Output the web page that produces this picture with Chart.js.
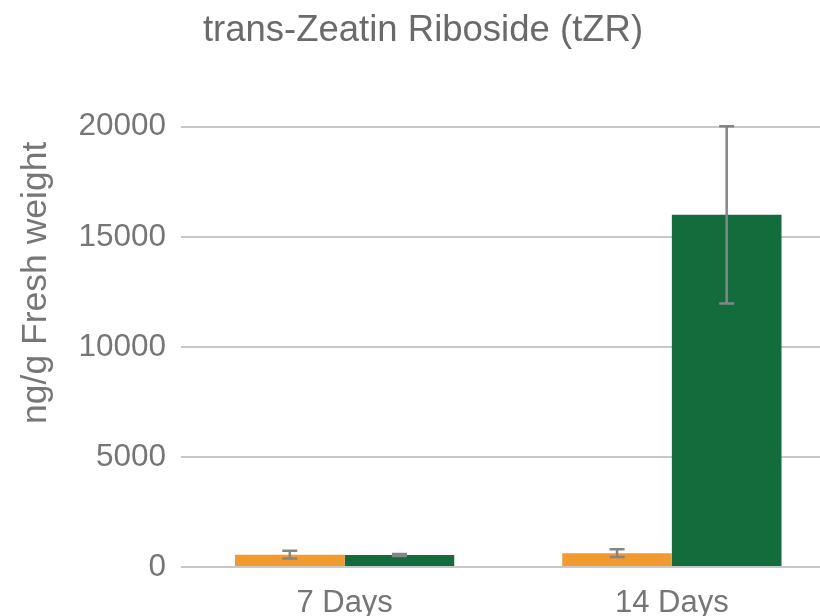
<!DOCTYPE html>
<html>
<head>
<meta charset="utf-8">
<script src="https://cdn.jsdelivr.net/npm/chart.js@4/dist/chart.umd.min.js"></script>
<style>
  html, body { margin: 0; padding: 0; overflow: hidden; background: #fff; }
  canvas { display: block; }
</style>
</head>
<body>
<canvas id="c" width="846" height="616"></canvas>
<script>
const categories = ['7 Days', '14 Days'];
const orangeValues = [560, 630];
const orangeErrors = [175, 180];
const greenValues = [545, 16000];
const greenErrors = [50, 4030];
const yTicks = [0, 5000, 10000, 15000, 20000];
const chartTitle = 'trans-Zeatin Riboside (tZR)';
const yTitle = 'ng/g Fresh weight';

const FONT = '"Liberation Sans", Arial, sans-serif';

const errorBarPlugin = {
  id: 'errorBars',
  afterDatasetsDraw(chart) {
    const ctx = chart.ctx;
    const yScale = chart.scales.y;
    chart.data.datasets.forEach((ds, di) => {
      const meta = chart.getDatasetMeta(di);
      meta.data.forEach((bar, i) => {
        const v = ds.data[i];
        const e = ds.errors[i];
        const x = bar.x;
        const yTop = yScale.getPixelForValue(v + e);
        const yBot = yScale.getPixelForValue(v - e);
        const cap = 7.5;
        ctx.save();
        ctx.strokeStyle = '#858585';
        ctx.lineWidth = 2.5;
        ctx.beginPath();
        ctx.moveTo(x, yTop); ctx.lineTo(x, yBot);
        ctx.moveTo(x - cap, yTop); ctx.lineTo(x + cap, yTop);
        ctx.moveTo(x - cap, yBot); ctx.lineTo(x + cap, yBot);
        ctx.stroke();
        ctx.restore();
      });
    });
  }
};

const yTitlePlugin = {
  id: 'yTitle',
  afterDraw(chart) {
    const ctx = chart.ctx;
    const a = chart.chartArea;
    ctx.save();
    ctx.translate(a.left - 145, a.top + 156);
    ctx.rotate(-Math.PI / 2);
    ctx.font = '35.5px ' + FONT;
    ctx.fillStyle = '#767676';
    ctx.textAlign = 'center';
    ctx.textBaseline = 'middle';
    ctx.fillText(yTitle, 0, 0);
    ctx.restore();
  }
};

new Chart(document.getElementById('c'), {
  type: 'bar',
  data: {
    labels: categories,
    datasets: [
      {
        label: 'A',
        data: orangeValues,
        errors: orangeErrors,
        backgroundColor: '#F29A2E',
        borderWidth: 0,
        categoryPercentage: 0.67,
        barPercentage: 1.0
      },
      {
        label: 'B',
        data: greenValues,
        errors: greenErrors,
        backgroundColor: '#126C3B',
        borderWidth: 0,
        categoryPercentage: 0.67,
        barPercentage: 1.0
      }
    ]
  },
  options: {
    responsive: false,
    animation: false,
    layout: { padding: { left: 10.5, right: 10.5, top: 0, bottom: 0 } },
    plugins: {
      legend: { display: false },
      tooltip: { enabled: false },
      title: {
        display: true,
        text: chartTitle,
        color: '#6a6a6a',
        font: { family: FONT, size: 36.5, weight: 'normal' },
        padding: { top: 9, bottom: 74 }
      }
    },
    scales: {
      x: {
        grid: { display: false },
        border: { display: false },
        ticks: {
          color: '#767676',
          font: { family: FONT, size: 31 },
          padding: 10
        },
        afterFit(s) { s.height = 49; }
      },
      y: {
        min: 0,
        max: 20000,
        afterBuildTicks(s) { s.ticks = yTicks.map(v => ({ value: v })); },
        grid: { color: '#c8c8c8', lineWidth: 2, drawTicks: false },
        border: { display: false },
        ticks: {
          color: '#767676',
          font: { family: FONT, size: 31.5 },
          padding: 15,
          callback: v => String(v)
        },
        afterFit(s) { s.width = 170.5; }
      }
    }
  },
  plugins: [errorBarPlugin, yTitlePlugin]
});
</script>
</body>
</html>
